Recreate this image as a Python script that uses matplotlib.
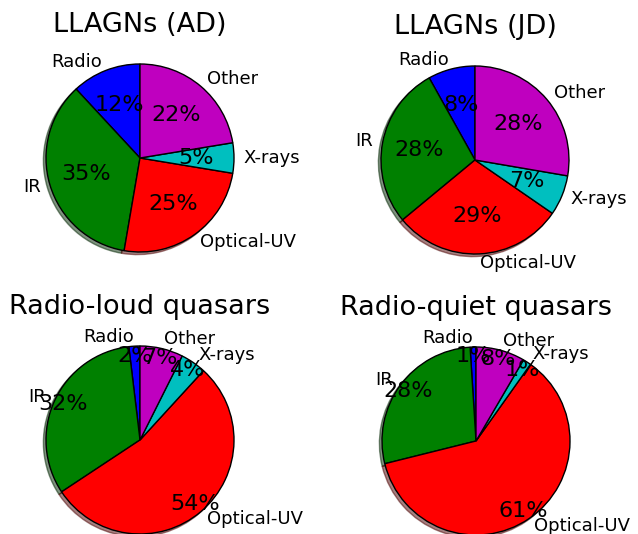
import matplotlib
matplotlib.use('Agg')
import matplotlib.pyplot as plt

# Band contributions (percent) for each source class
labels = ['Radio', 'IR', 'Optical-UV', 'X-rays', 'Other']
colors = ['b', 'g', 'r', 'c', 'm']

titles = ['LLAGNs (AD)', 'LLAGNs (JD)', 'Radio-loud quasars', 'Radio-quiet quasars']
llagn_ad = [11.9, 35.4, 25.1, 5.2, 22.4]
llagn_jd = [8.1, 27.9, 29.4, 6.9, 27.7]
rl_qso = [1.9, 32.4, 53.9, 4.4, 7.4]
rq_qso = [1.0, 27.8, 61.1, 1.4, 8.4]

W, H = 638, 534
fig = plt.figure(figsize=(W / 100, H / 100), dpi=100)

# pie centres in pixels, radius ~94 px
centres = [(140, 158), (475, 160), (140, 440), (476, 441)]
pct_dist = [0.6, 0.6, 0.9, 0.9]
data = [llagn_ad, llagn_jd, rl_qso, rq_qso]
R = 94
half = 1.25 * R

for vals, title, (cx, cy), pd in zip(data, titles, centres, pct_dist):
    ax = fig.add_axes([(cx - half) / W, (H - cy - half) / H, 2 * half / W, 2 * half / H])
    wedges, texts, autotexts = ax.pie(vals, labels=labels, colors=colors, autopct='%1.0f%%',
                                      startangle=90, shadow=True, pctdistance=pd,
                                      labeldistance=1.1,
                                      wedgeprops={'edgecolor': 'k', 'linewidth': 1})
    for t in texts:
        t.set_fontsize(13)
    for t in autotexts:
        t.set_fontsize(16)
    ax.set_xlim(-1.25, 1.25)
    ax.set_ylim(-1.25, 1.25)
    ax.set_aspect('equal')
    ax.set_title(title, fontsize=19.5)

fig.savefig('out.png', dpi=100)
